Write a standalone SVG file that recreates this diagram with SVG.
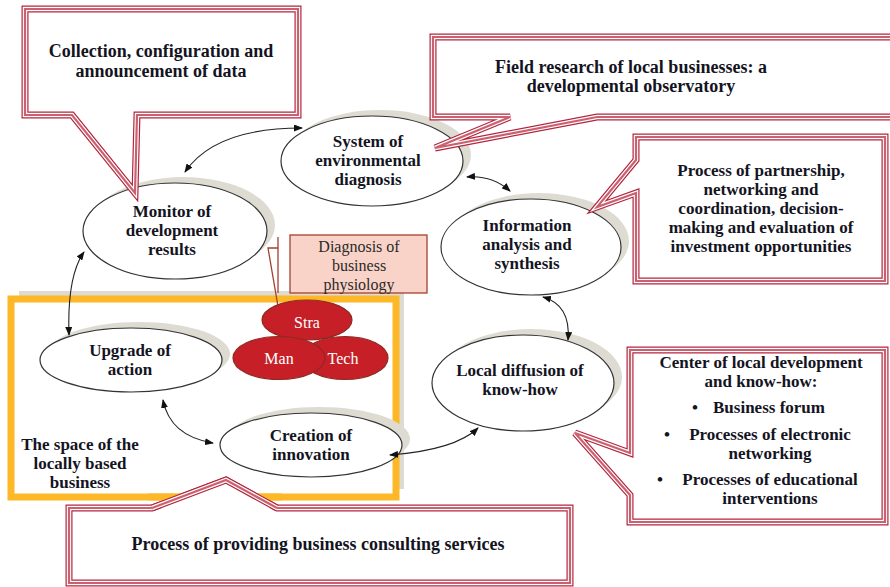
<svg xmlns="http://www.w3.org/2000/svg" xmlns:xlink="http://www.w3.org/1999/xlink" width="890" height="587" viewBox="0 0 890 587">
<style>
.t{font-family:"Liberation Serif","Times New Roman",serif;font-weight:bold;font-size:18px;fill:#14141f;text-anchor:middle}
.s{font-size:17px}
.r{font-family:"Liberation Serif","Times New Roman",serif;font-size:16px;text-anchor:middle}
.sh{fill:#dedbd3}
.el{fill:#fff;stroke:#333;stroke-width:1.2}
.c1{fill:#fff;stroke:#b3253f;stroke-width:7;stroke-linejoin:miter}
.c2{fill:none;stroke:#fff;stroke-width:4.6}
.c3{fill:none;stroke:#c9616f;stroke-width:2.2}
.ar{fill:none;stroke:#222;stroke-width:1.1;marker-start:url(#ah);marker-end:url(#ah)}
.venn{fill:#c61f28;stroke:#8e2a22;stroke-width:1.2}
.vt{font-family:"Liberation Serif","Times New Roman",serif;font-size:16px;fill:#fff;text-anchor:middle}
</style>
<defs>
<marker id="ah" markerUnits="userSpaceOnUse" markerWidth="9" markerHeight="7" refX="8" refY="3.5" orient="auto-start-reverse">
<path d="M0,0 L9,3.5 L0,7 z" fill="#111"/>
</marker>
<path id="p1" d="M25,9 H298 V115 H137 L135,193 L72,115 H25 Z"/>
<path id="p2" d="M433,37 H895 V117 H597 L435,148 L510,117 H433 Z"/>
<path id="p3" d="M636,137 H885 V281 H636 V193 L597,207 L636,160 Z"/>
<path id="p4" d="M630,350 H885 V522 H630 V495 L575,433 L630,453 Z"/>
<path id="p5" d="M69,508 H152 L226,480 L277,508 H570 V583 H69 Z"/>
<path id="p5t" d="M152,508 L226,480 L277,508"/>
</defs>

<g id="space">
<rect x="19" y="291" width="385" height="198" class="sh"/>
<rect x="11" y="299" width="385" height="198" fill="#fff" stroke="#fdb827" stroke-width="7"/>
<text class="t s"><tspan x="80" y="450">The space of the</tspan><tspan x="80" y="469">locally based</tspan><tspan x="80" y="488">business</tspan></text>
</g>

<g id="system">
<ellipse cx="380" cy="155" rx="91" ry="45" class="sh"/>
<ellipse cx="372" cy="161" rx="91" ry="45" class="el"/>
<text class="t s"><tspan x="368" y="147">System of</tspan><tspan x="368" y="166">environmental</tspan><tspan x="368" y="185">diagnosis</tspan></text>
</g>
<g id="monitor">
<ellipse cx="183" cy="225" rx="92" ry="48" class="sh"/>
<ellipse cx="175" cy="231" rx="92" ry="48" class="el"/>
<text class="t s"><tspan x="172" y="217">Monitor of</tspan><tspan x="172" y="236">development</tspan><tspan x="172" y="255">results</tspan></text>
</g>
<g id="information">
<ellipse cx="539" cy="241" rx="90" ry="48" class="sh"/>
<ellipse cx="531" cy="247" rx="90" ry="48" class="el"/>
<text class="t s"><tspan x="527" y="231">Information</tspan><tspan x="527" y="250">analysis and</tspan><tspan x="527" y="269">synthesis</tspan></text>
</g>
<g id="diffusion">
<ellipse cx="531" cy="377" rx="91" ry="48" class="sh"/>
<ellipse cx="523" cy="383" rx="91" ry="48" class="el"/>
<text class="t s"><tspan x="520" y="376">Local diffusion of</tspan><tspan x="520" y="395">know-how</tspan></text>
</g>
<g id="upgrade">
<ellipse cx="139" cy="354" rx="91" ry="32" class="sh"/>
<ellipse cx="131" cy="360" rx="91" ry="32" class="el"/>
<text class="t s"><tspan x="130" y="356">Upgrade of</tspan><tspan x="130" y="375">action</tspan></text>
</g>
<g id="creation">
<ellipse cx="319" cy="439" rx="91" ry="32" class="sh"/>
<ellipse cx="311" cy="445" rx="91" ry="32" class="el"/>
<text class="t s"><tspan x="311" y="441">Creation of</tspan><tspan x="311" y="460">innovation</tspan></text>
</g>

<g id="diagnosis">
<rect x="290" y="235" width="137" height="58" fill="#fad3c8" stroke="#a3402e" stroke-width="1.3"/>
<line x1="278" y1="237" x2="278" y2="293" stroke="#a3402e" stroke-width="1.3"/>
<polyline points="278,248 268,248 280,318" fill="none" stroke="#a3402e" stroke-width="1.3"/>
<text class="r" fill="#2a2a2a"><tspan x="359" y="252">Diagnosis of</tspan><tspan x="359" y="271">business</tspan><tspan x="359" y="290">physiology</tspan></text>
</g>

<g id="venn">
<ellipse cx="307" cy="320" rx="45" ry="20" class="venn"/>
<ellipse cx="345" cy="358" rx="43" ry="21.5" class="venn"/>
<ellipse cx="279" cy="358" rx="46" ry="21.5" class="venn"/>
<text class="vt" x="307" y="328">Stra</text>
<text class="vt" x="279" y="364">Man</text>
<text class="vt" x="343" y="364">Tech</text>
</g>

<g id="connectors">
<path class="ar" d="M185,172 Q215,128 302,128"/>
<path class="ar" d="M467,177 Q492,175 510,191"/>
<path class="ar" d="M543,297 Q571,305 568,340"/>
<path class="ar" d="M390,455 Q455,450 478,428"/>
<path class="ar" d="M163,400 Q170,436 213,443"/>
<path class="ar" d="M84,252 Q67,276 69,335"/>
</g>

<g id="callout1">
<use xlink:href="#p1" class="c1"/><use xlink:href="#p1" class="c2"/><use xlink:href="#p1" class="c3"/>
<text class="t"><tspan x="161" y="57">Collection, configuration and</tspan><tspan x="161" y="77">announcement of data</tspan></text>
</g>
<g id="callout2">
<use xlink:href="#p2" class="c1"/><use xlink:href="#p2" class="c2"/><use xlink:href="#p2" class="c3"/>
<text class="t"><tspan x="631" y="73">Field research of local businesses: a</tspan><tspan x="631" y="92">developmental observatory</tspan></text>
</g>
<g id="callout3">
<use xlink:href="#p3" class="c1"/><use xlink:href="#p3" class="c2"/><use xlink:href="#p3" class="c3"/>
<text class="t s"><tspan x="761" y="176">Process of partnership,</tspan><tspan x="761" y="195">networking and</tspan><tspan x="761" y="214">coordination, decision-</tspan><tspan x="761" y="233">making and evaluation of</tspan><tspan x="761" y="252">investment opportunities</tspan></text>
</g>
<g id="callout4">
<use xlink:href="#p4" class="c1"/><use xlink:href="#p4" class="c2"/><use xlink:href="#p4" class="c3"/>
<text class="t s"><tspan x="761" y="368">Center of local development</tspan><tspan x="761" y="387">and know-how:</tspan></text>
<text class="t s" x="695" y="413">•</text>
<text class="t s" x="769" y="413">Business forum</text>
<text class="t s" x="667" y="440">•</text>
<text class="t s"><tspan x="770" y="440">Processes of electronic</tspan><tspan x="770" y="459">networking</tspan></text>
<text class="t s" x="660" y="485">•</text>
<text class="t s"><tspan x="770" y="485">Processes of educational</tspan><tspan x="770" y="504">interventions</tspan></text>
</g>
<g id="callout5">
<use xlink:href="#p5" class="c1"/><use xlink:href="#p5" class="c2"/><use xlink:href="#p5" class="c3"/>
<line x1="148" y1="497" x2="282" y2="497" stroke="#fdb827" stroke-width="7"/>
<use xlink:href="#p5t" class="c1" fill="none"/><use xlink:href="#p5t" class="c2"/><use xlink:href="#p5t" class="c3"/>
<text class="t" x="318" y="550">Process of providing business consulting services</text>
</g>
</svg>
